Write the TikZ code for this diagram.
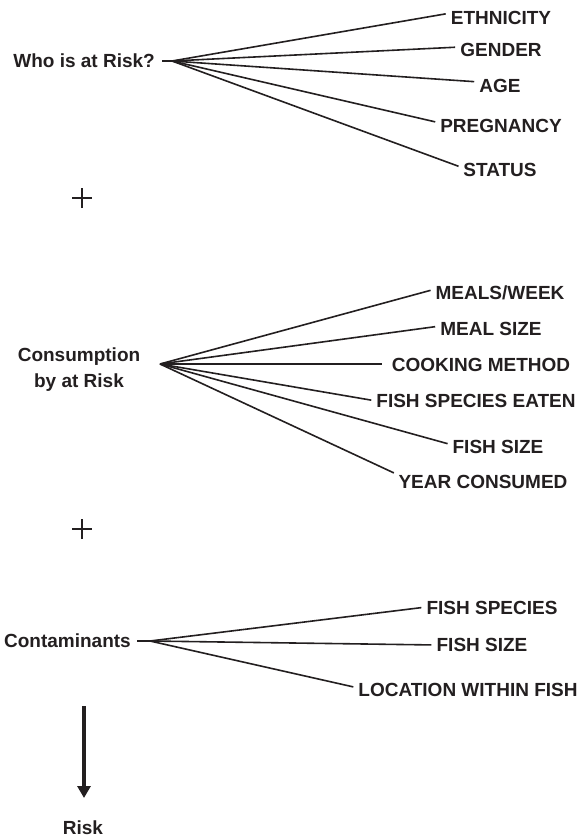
\documentclass[tikz,border=0pt]{standalone}
\usepackage{fontspec}
\setmainfont{Liberation Sans}
\usetikzlibrary{arrows.meta}
\definecolor{ink}{HTML}{231F20}
\begin{document}
\begin{tikzpicture}[x=1pt,y=-1pt,
  every node/.style={font=\fontsize{19}{26}\selectfont\bfseries, text=ink, inner sep=0pt},
  spoke/.style={draw=ink, line width=1.6pt, shorten >=5pt},
  lead/.style={draw=ink, line width=1.6pt},
  plus/.style={draw=ink, line width=2.2pt}]
\useasboundingbox (0,0) rectangle (580,840);
% ---- top group
\node[anchor=east] (who) at (155,61) {Who is at Risk?};
\coordinate (h1) at (172,61);
\node (eth) at (501,18) {ETHNICITY};
\node (gen) at (501,50) {GENDER};
\node (age) at (500,86) {AGE};
\node (preg) at (501,126) {PREGNANCY};
\node (stat) at (500,170) {STATUS};
\draw[lead] ([xshift=7pt]who.east) -- (h1);
\foreach \n/\d in {eth/5,gen/3,age/4,preg/3,stat/2}
  \draw[spoke] (h1) -- ([yshift=\d pt]\n.west);
\coordinate (p1) at (82,198);
\draw[plus] ([xshift=-10pt]p1) -- ([xshift=10pt]p1) ([yshift=-10pt]p1) -- ([yshift=10pt]p1);
% ---- middle group
\node[align=center] (cons) at (79,370) {Consumption\\by at Risk};
\coordinate (h2) at (160,364);
\node (meals) at (500,293) {MEALS/WEEK};
\node (msize) at (491,329) {MEAL SIZE};
\node (cook) at (481,365) {COOKING METHOD};
\node (fse) at (476,401) {FISH SPECIES EATEN};
\node (fsize) at (498,447) {FISH SIZE};
\node (year) at (483,482) {YEAR CONSUMED};
\foreach \n/\d in {meals/4,msize/3,fse/0,fsize/2,year/7}
  \draw[spoke] (h2) -- ([yshift=\d pt]\n.west);
\draw[spoke, shorten >=10pt] (h2) -- (h2 -| cook.west);
\coordinate (p2) at (82,529);
\draw[plus] ([xshift=-10pt]p2) -- ([xshift=10pt]p2) ([yshift=-10pt]p2) -- ([yshift=10pt]p2);
% ---- bottom group
\node[anchor=east] (cont) at (131,641) {Contaminants};
\coordinate (h3) at (150,641);
\node (fsp) at (492,608) {FISH SPECIES};
\node (fsz) at (482,645) {FISH SIZE};
\node (loc) at (468,690) {LOCATION WITHIN FISH};
\draw[lead] ([xshift=6pt]cont.east) -- (h3);
\foreach \n/\d in {fsp/1,fsz/0,loc/2}
  \draw[spoke] (h3) -- ([yshift=\d pt]\n.west);
% ---- result
\node (risk) at (83,828) {Risk};
\coordinate (atop) at (84,706);
\coordinate (atip) at (84,798);
\draw[draw=ink, line width=3.3pt, -{Triangle[length=12pt,width=13pt]}] (atop) -- (atip);
\end{tikzpicture}
\end{document}
